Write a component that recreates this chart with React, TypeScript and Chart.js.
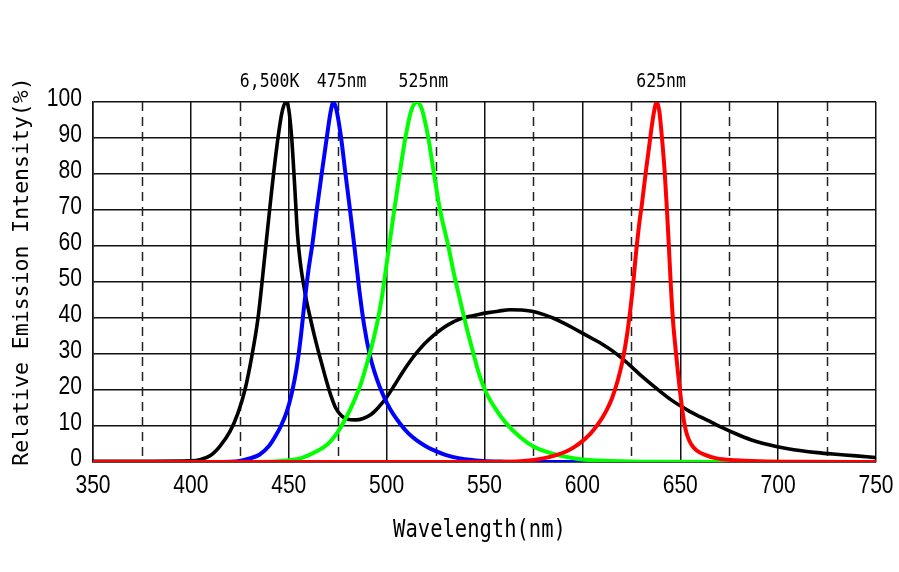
import React, { useEffect, useRef } from "react";
import { Chart, registerables } from "chart.js";
Chart.register(...registerables);

// ---- data (wavelength in nm, relative intensity in %) ----
const wlWhite = [350, 380, 400, 405, 410, 415, 420, 424, 427.6, 431, 434.3, 437.9, 441, 444, 446.5, 448.5, 450, 451.5, 453, 454.5, 456, 457.5, 459, 461, 463, 465, 467, 469, 471.5, 474, 477, 480, 484, 488, 492, 496, 500, 504, 508, 512, 516, 520, 524, 528, 532, 537, 542, 547, 552, 557, 563, 569, 575, 580, 585, 590, 595, 600, 605, 610, 615, 620, 625, 630, 635, 640, 645, 650, 655, 660, 666, 672, 679, 686, 692, 699, 705, 711, 720, 728, 740, 750];
const intWhite = [0.2, 0.2, 0.3, 0.7, 1.8, 4.5, 8.5, 13.5, 20, 29, 40, 58, 74, 88, 97, 100, 98, 90, 77, 63, 55, 49.5, 45, 40, 35.3, 31, 27, 23, 18.5, 15, 12.8, 11.9, 11.7, 12.1, 13.2, 15.3, 18, 21.3, 24.8, 28, 30.8, 33.2, 35.2, 36.9, 38.3, 39.6, 40.4, 41, 41.5, 41.9, 42.3, 42.2, 41.8, 41, 40, 38.7, 37.3, 35.8, 34.3, 32.8, 31, 28.9, 26.5, 24, 21.7, 19.5, 17.4, 15.6, 14, 12.6, 11, 9.4, 7.7, 6.2, 5.2, 4.3, 3.7, 3.2, 2.6, 2.2, 1.7, 1.2];

const wlBlue = [350, 400, 420, 425, 430, 435, 440, 443, 446, 449, 451.5, 454, 456, 458, 460, 462.2, 464.3, 466.8, 469.4, 471.3, 472.8, 474.3, 476.5, 479, 481.3, 483.5, 486, 488.5, 491.5, 495, 498.3, 502, 506.8, 511, 515.4, 520, 524, 530, 537.5, 549, 560, 580, 750];
const intBlue = [0, 0, 0.1, 0.3, 1, 2, 4.5, 7, 10, 14, 19, 26, 34, 44, 53, 61, 70, 80, 90, 97, 100, 98, 91, 80, 70, 60, 48, 38, 29.5, 23, 18.5, 14.5, 10.7, 8, 6, 4.4, 3.3, 2, 1, 0.3, 0.1, 0, 0];

const wlGreen = [350, 420, 440, 450, 456, 464, 470, 475, 479, 483, 487, 490, 493, 495.5, 497.5, 500.5, 503.5, 506.5, 509.4, 512.5, 515.4, 518, 521.3, 524.2, 527.3, 531.5, 534.5, 537.5, 541, 544.3, 547.5, 551, 556, 561, 568, 575, 583, 592, 600, 609, 630, 750];
const intGreen = [0, 0, 0.1, 0.5, 1, 2.9, 5, 8.3, 12, 16.5, 22, 27.5, 33.5, 39.5, 45.5, 57, 68.5, 79.5, 89.5, 97.5, 100, 98, 90, 80, 70, 60, 52, 45, 37, 30.2, 24, 19.1, 14.5, 10.8, 7, 4.3, 2.6, 1.4, 0.7, 0.4, 0.1, 0];

const wlRed = [350, 550, 570, 580, 587, 592, 596, 600, 604, 608, 612, 615, 618, 620.5, 623, 625.5, 627.4, 629, 630.5, 632.5, 634.9, 636.5, 638, 639.3, 640.5, 642, 643.1, 644, 645, 646.2, 647.5, 649, 650.7, 652, 653.5, 655.5, 658.4, 663, 668.6, 678, 690, 710, 750];
const intRed = [0, 0, 0.3, 1, 2, 3, 4.2, 5.8, 7.8, 10.5, 14, 17.5, 22.5, 28, 36, 47, 58, 66, 72, 81, 91, 97, 100, 97.5, 91, 81, 71, 62, 51, 40, 32, 24, 16, 11, 7.5, 5, 3.2, 1.9, 1, 0.5, 0.2, 0.05, 0];

const peakLabels = ["6,500K", "475nm", "525nm", "625nm"];
const peakLabelAt = [440.2, 477, 518.8, 640.2];
const dashedAt = [375, 425, 475, 525, 575, 625, 675, 725];
const xTitle = "Wavelength(nm)";
const yTitle = "Relative Emission Intensity(%)";

const MONO = '"DejaVu Sans Mono", "Liberation Mono", monospace';
const TICKFONT = '26px "Liberation Sans", Arial, sans-serif';

function pts(xs: number[], ys: number[]) {
  return xs.map((x, i) => ({ x, y: ys[i] }));
}

const overlayPlugin = {
  id: "overlay",
  beforeDatasetsDraw(chart: any) {
    const { ctx, chartArea, scales } = chart;
    ctx.save();
    ctx.strokeStyle = "#222";
    ctx.lineWidth = 1.5;
    ctx.setLineDash([9, 6]);
    for (const v of dashedAt) {
      const x = Math.round(scales.x.getPixelForValue(v)) + 0.5;
      ctx.beginPath();
      ctx.moveTo(x, chartArea.top);
      ctx.lineTo(x, chartArea.bottom);
      ctx.stroke();
    }
    ctx.restore();
  },
  afterDraw(chart: any) {
    const { ctx, chartArea, scales } = chart;
    ctx.save();
    ctx.fillStyle = "#000";
    // tick labels (condensed)
    ctx.font = TICKFONT;
    ctx.textBaseline = "alphabetic";
    ctx.textAlign = "right";
    for (const t of scales.y.ticks) {
      const y = scales.y.getPixelForValue(t.value);
      ctx.save();
      ctx.translate(chartArea.left - 11, y + 4);
      ctx.scale(0.81, 1);
      ctx.fillText(String(t.value), 0, 0);
      ctx.restore();
    }
    ctx.textAlign = "center";
    for (const t of scales.x.ticks) {
      const x = scales.x.getPixelForValue(t.value);
      ctx.save();
      ctx.translate(x, chartArea.bottom + 31);
      ctx.scale(0.81, 1);
      ctx.fillText(String(t.value), 0, 0);
      ctx.restore();
    }
    // peak labels
    ctx.font = `16.5px ${MONO}`;
    ctx.textAlign = "center";
    peakLabels.forEach((t, i) => {
      const x = scales.x.getPixelForValue(peakLabelAt[i]);
      ctx.save();
      ctx.translate(x, chartArea.top - 15);
      ctx.scale(1, 1.2);
      ctx.fillText(t, 0, 0);
      ctx.restore();
    });
    // x title
    ctx.save();
    ctx.font = `20.5px ${MONO}`;
    ctx.translate((chartArea.left + chartArea.right) / 2 - 5, chartArea.bottom + 75);
    ctx.scale(1, 1.23);
    ctx.fillText(xTitle, 0, 0);
    ctx.restore();
    // y title
    ctx.save();
    ctx.font = `21.5px ${MONO}`;
    ctx.translate(28, (chartArea.top + chartArea.bottom) / 2 - 10.5);
    ctx.rotate(-Math.PI / 2);
    ctx.fillText(yTitle, 0, 0);
    ctx.restore();
    ctx.restore();
  },
};

export default function App() {
  const ref = useRef<HTMLCanvasElement>(null);
  useEffect(() => {
    if (!ref.current) return;
    const common = {
      borderWidth: 4,
      pointRadius: 0,
      fill: false,
      cubicInterpolationMode: "monotone" as const,
      borderJoinStyle: "round" as const,
      borderCapStyle: "round" as const,
    };
    const chart = new Chart(ref.current, {
      type: "line",
      data: {
        datasets: [
          { ...common, label: "625nm", data: pts(wlRed, intRed), borderColor: "#ff0000", order: 1 },
          { ...common, label: "525nm", data: pts(wlGreen, intGreen), borderColor: "#00ff00", order: 2 },
          { ...common, label: "475nm", data: pts(wlBlue, intBlue), borderColor: "#0000ff", order: 3 },
          { ...common, label: "6,500K", data: pts(wlWhite, intWhite), borderColor: "#000000", borderWidth: 3.6, order: 4 },
        ],
      },
      options: {
        animation: false,
        responsive: false,
        maintainAspectRatio: false,
        layout: { padding: { left: 0, top: 102, right: 23, bottom: 0 } },
        plugins: { legend: { display: false }, tooltip: { enabled: false } },
        scales: {
          x: {
            type: "linear",
            min: 350,
            max: 750,
            grid: { color: "#111", lineWidth: 1.5, drawTicks: false },
            border: { color: "#111", width: 1.5 },
            ticks: { stepSize: 50, display: false, autoSkip: false },
            afterFit: (s: any) => {
              s.height = 110;
            },
          },
          y: {
            min: 0,
            max: 100,
            grid: { color: "#111", lineWidth: 1.5, drawTicks: false },
            border: { color: "#111", width: 1.5 },
            ticks: { stepSize: 10, display: false, autoSkip: false },
            afterFit: (s: any) => {
              s.width = 93;
            },
          },
        },
      },
      plugins: [overlayPlugin],
    });
    return () => chart.destroy();
  }, []);
  return (
    <div style={{ position: "fixed", left: 0, top: 0, width: 899, height: 572, background: "#fff" }}>
      <canvas ref={ref} width={899} height={572} style={{ display: "block" }} />
    </div>
  );
}
